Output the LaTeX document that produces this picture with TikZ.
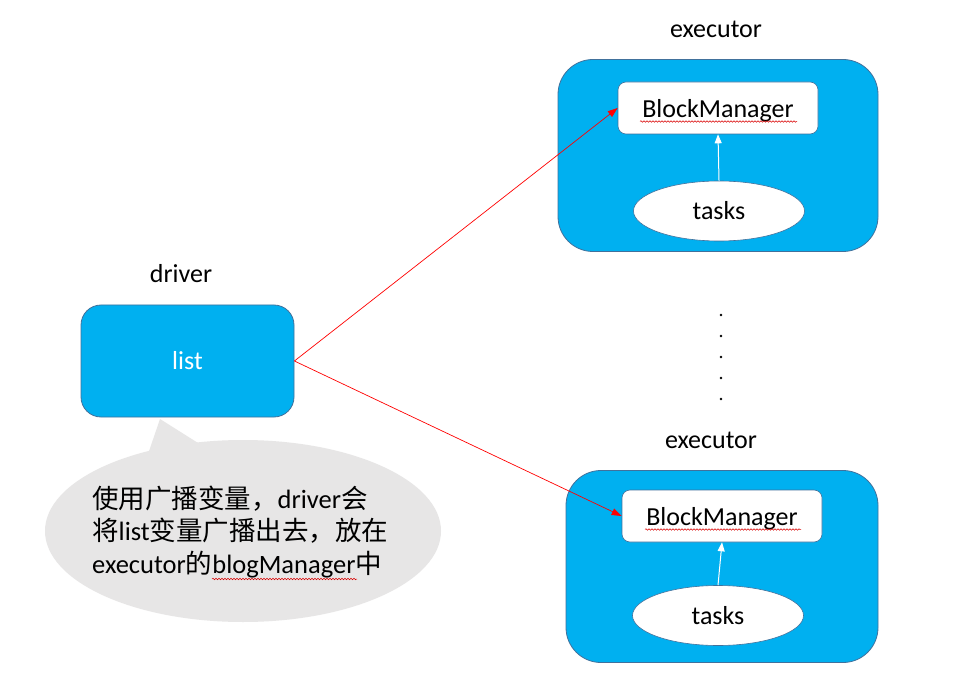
\documentclass[tikz,border=0pt]{standalone}
\usepackage{fontspec}
\setmainfont{Carlito}
\newfontfamily\cjk{Noto Sans CJK SC}
\usetikzlibrary{arrows.meta,shapes.geometric,decorations.pathmorphing}
\definecolor{boxblue}{HTML}{00B0F0}
\definecolor{edgeblue}{HTML}{41719C}
\definecolor{bubble}{HTML}{E7E6E6}
\tikzset{
  lbl/.style={font=\fontsize{26}{30}\selectfont, inner sep=0pt},
  exec/.style={draw=edgeblue, line width=0.8pt, fill=boxblue, rounded corners=35pt, minimum width=#1, minimum height=192pt, inner sep=0pt},
  drv/.style={draw=edgeblue, line width=0.8pt, fill=boxblue, rounded corners=20pt, minimum width=213pt, minimum height=112pt, text=white, font=\fontsize{26}{30}\selectfont},
  bm/.style={draw=edgeblue, line width=0.6pt, fill=white, rounded corners=8pt, minimum width=200pt, minimum height=52pt, font=\fontsize{26}{30}\selectfont, inner sep=0pt, text height=24pt, text depth=5pt},
  task/.style={ellipse, draw=edgeblue, line width=0.6pt, fill=white, minimum width=171pt, minimum height=60pt, font=\fontsize{26}{30}\selectfont, inner sep=0pt},
  redarrow/.style={red, line width=0.7pt, -{Triangle[length=10pt,width=7pt]}},
  whitearrow/.style={white, line width=1pt, -{Triangle[length=9pt,width=7pt]}},
  squig/.style={red!85!black, line width=0.5pt, decorate, decoration={snake, amplitude=0.8pt, segment length=3pt}},
  dotstyle/.style={circle, fill=black, inner sep=0pt, minimum size=2.8pt},
}
\begin{document}
\begin{tikzpicture}[x=1pt,y=-1pt]
\useasboundingbox[fill=white] (0,0) rectangle (979,684);

% executors
\node[exec=320pt] (te) at (718,155.5) {};
\node[exec=312pt] (be) at (722,566.5) {};
\node[lbl] (tel) at (716,29) {executor};
\node[lbl] (bel) at (711,440) {executor};

\node[bm] (tbm) at (718,108) {BlockManager};
\node[bm] (bbm) at (722,516) {BlockManager};
\node[task] (tt) at (719,211) {tasks};
\node[task] (bt) at (718,615.5) {tasks};

\draw[whitearrow] (tt.north) -- (tbm.south);
\draw[whitearrow] (bt.north) -- (bbm.south);

\draw[squig] (640,121.5) -- (797,121.5);
\draw[squig] (645,529.5) -- (801,529.5);

% driver
\node[lbl] (dl) at (181,274) {driver};
\node[drv] (drv) at (187.5,361) {list};

% dots
\foreach \yy [count=\i] in {315,336,357,378,399} {
  \node[dotstyle] (d\i) at (721,\yy) {};
}

% callout
\fill[bubble] (160,419) -- (146,460) -- (225,460) -- cycle;
\node[ellipse, fill=bubble, minimum width=396pt, minimum height=182pt, inner sep=0pt] (call) at (243,531) {};
\node[anchor=west, align=left, font=\fontsize{26.5}{32.5}\selectfont, inner sep=0pt] (ctext) at (92,532)
  {{\cjk 使用广播变量，}driver{\cjk 会}\\
   {\cjk 将}list{\cjk 变量广播出去，放在}\\
   executor{\cjk 的}blogManager{\cjk 中}};
\draw[squig] (212,579) -- (357,579);

% red arrows
\draw[redarrow] (drv.east) -- (tbm.west);
\draw[redarrow] (drv.east) -- (bbm.west);
\end{tikzpicture}
\end{document}
